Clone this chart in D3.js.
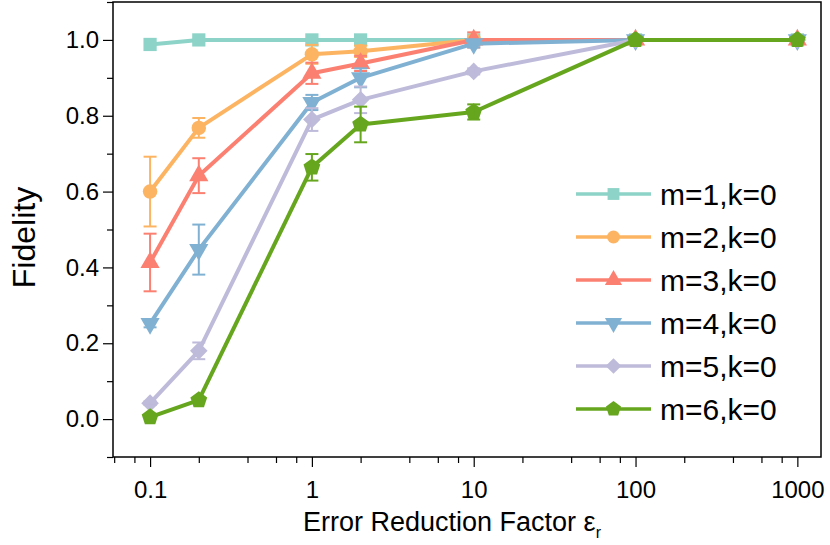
<!DOCTYPE html>
<html>
<head>
<meta charset="utf-8">
<script src="https://cdn.jsdelivr.net/npm/d3@7"></script>
<style>
  body { margin: 0; background: #fff; overflow: hidden; }
  svg { display: block; }
  text { font-family: "Liberation Sans", Arial, Helvetica, sans-serif; fill: #000; }
</style>
</head>
<body>
<svg id="chart" width="830" height="545"></svg>
<script>
// ----------------------
// data
// ----------------------
const xValues = [0.1, 0.2, 1, 2, 10, 100, 1000];
const seriesNames = ["m=1,k=0", "m=2,k=0", "m=3,k=0", "m=4,k=0", "m=5,k=0", "m=6,k=0"];
const seriesColors = ["#8dd3c7", "#fdb462", "#fb8072", "#80b1d3", "#bebada", "#66a61e"];

const fidM1 = [0.988, 1.0, 1.0, 1.0, 1.0, 1.0, 1.0];
const fidM2 = [0.600, 0.768, 0.962, 0.970, 1.0, 1.0, 1.0];
const fidM3 = [0.413, 0.642, 0.912, 0.938, 1.0, 1.0, 1.0];
const fidM4 = [0.252, 0.447, 0.835, 0.900, 0.990, 1.0, 1.0];
const fidM5 = [0.042, 0.180, 0.790, 0.842, 0.917, 1.0, 1.0];
const fidM6 = [0.005, 0.050, 0.664, 0.777, 0.810, 1.0, 1.0];

const errM1 = [0, 0, 0, 0, 0, 0, 0];
const errM2 = [0.092, 0.026, 0.025, 0.015, 0.008, 0, 0];
const errM3 = [0.076, 0.046, 0.028, 0.020, 0.020, 0, 0];
const errM4 = [0.010, 0.066, 0.020, 0.025, 0.010, 0, 0];
const errM5 = [0.005, 0.022, 0.030, 0.035, 0.008, 0, 0];
const errM6 = [0, 0, 0.035, 0.047, 0.020, 0, 0];

const yMajorTicks = [0, 0.2, 0.4, 0.6, 0.8, 1.0];
const yMinorTicks = [-0.1, 0.1, 0.3, 0.5, 0.7, 0.9, 1.1];
const xMajorTicks = [0.1, 1, 10, 100, 1000];
const xMinorTicks = [0.06, 0.08, 0.2, 0.4, 0.6, 0.8, 2, 4, 6, 8, 20, 40, 60, 80, 200, 400, 600, 800];

const fidAll = [fidM1, fidM2, fidM3, fidM4, fidM5, fidM6];
const errAll = [errM1, errM2, errM3, errM4, errM5, errM6];

// ----------------------
// layout
// ----------------------
const svg = d3.select("#chart");
const margin = { top: 2, right: 9, bottom: 88, left: 113 };
const innerWidth = 830 - margin.left - margin.right;
const innerHeight = 545 - margin.top - margin.bottom;

const g = svg.append("g")
    .attr("transform", `translate(${margin.left},${margin.top})`);

const x = d3.scaleLog().domain([0.059, 1400]).range([0, innerWidth]);
const y = d3.scaleLinear().domain([-0.1, 1.1]).range([innerHeight, 0]);

// pentagon marker (d3 has none)
const symbolPentagon = {
    draw(ctx, size) {
        const r = Math.sqrt(size / 2.3776);
        for (let i = 0; i < 5; i++) {
            const a = -Math.PI / 2 + i * 2 * Math.PI / 5;
            if (i === 0) ctx.moveTo(r * Math.cos(a), r * Math.sin(a));
            else ctx.lineTo(r * Math.cos(a), r * Math.sin(a));
        }
        ctx.closePath();
    }
};

const markers = [
    { type: d3.symbolSquare, size: 175, rot: 0 },
    { type: d3.symbolCircle, size: 165, rot: 0 },
    { type: d3.symbolTriangle, size: 160, rot: 0 },
    { type: d3.symbolTriangle, size: 160, rot: 180 },
    { type: d3.symbolSquare, size: 155, rot: 45 },
    { type: symbolPentagon, size: 185, rot: 0 }
];

// ----------------------
// axes
// ----------------------
g.append("g").attr("class", "y-axis")
    .call(d3.axisLeft(y).tickValues(yMajorTicks).tickFormat(d3.format(".1f")).tickSize(10).tickPadding(4));
g.append("g").attr("class", "y-minor")
    .call(d3.axisLeft(y).tickValues(yMinorTicks).tickSize(6));

g.append("g").attr("class", "x-axis")
    .attr("transform", `translate(0,${innerHeight})`)
    .call(d3.axisBottom(x).tickValues(xMajorTicks).tickFormat(d3.format("~g")).tickSize(10).tickPadding(14));
g.append("g").attr("class", "x-minor")
    .attr("transform", `translate(0,${innerHeight})`)
    .call(d3.axisBottom(x).tickValues(xMinorTicks).tickSize(6));

g.selectAll(".y-minor text, .x-minor text").remove();
g.selectAll(".domain").remove();
g.selectAll(".tick line").attr("stroke", "#000").attr("stroke-width", 1.2);
g.selectAll(".y-axis text, .x-axis text").style("font-size", "24px");

// frame
g.append("rect")
    .attr("width", innerWidth)
    .attr("height", innerHeight)
    .attr("fill", "none")
    .attr("stroke", "#000")
    .attr("stroke-width", 1.5);

// axis titles
svg.append("text")
    .attr("transform", `translate(35,${margin.top + innerHeight / 2 + 8}) rotate(-90)`)
    .attr("text-anchor", "middle")
    .style("font-size", "32px")
    .text("Fidelity");

const xTitle = svg.append("text")
    .attr("x", 452)
    .attr("y", 531)
    .attr("text-anchor", "middle")
    .style("font-size", "27px");
xTitle.append("tspan").text("Error Reduction Factor ε");
xTitle.append("tspan").attr("dy", 7).style("font-size", "16px").text("r");

// ----------------------
// series
// ----------------------
const lineGen = d3.line()
    .x(d => x(d.x))
    .y(d => y(d.v));

seriesNames.forEach((name, i) => {
    const pts = xValues.map((xv, j) => ({ x: xv, v: fidAll[i][j], e: errAll[i][j] }));
    const color = seriesColors[i];
    const sg = g.append("g").attr("class", "series");

    sg.append("path")
        .datum(pts)
        .attr("fill", "none")
        .attr("stroke", color)
        .attr("stroke-width", 4)
        .attr("stroke-linejoin", "round")
        .attr("d", lineGen);

    const mk = markers[i];
    sg.selectAll(".pt")
        .data(pts)
        .enter().append("path")
        .attr("class", "pt")
        .attr("fill", color)
        .attr("transform", d => `translate(${x(d.x)},${y(d.v)}) rotate(${mk.rot})`)
        .attr("d", d3.symbol().type(mk.type).size(mk.size));

    // error bars
    const eb = sg.selectAll(".eb")
        .data(pts.filter(d => d.e > 0))
        .enter().append("g")
        .attr("class", "eb")
        .attr("stroke", color)
        .attr("stroke-width", 2);
    eb.append("line")
        .attr("x1", d => x(d.x)).attr("x2", d => x(d.x))
        .attr("y1", d => y(d.v - d.e)).attr("y2", d => y(d.v + d.e));
    eb.append("line")
        .attr("x1", d => x(d.x) - 6.5).attr("x2", d => x(d.x) + 6.5)
        .attr("y1", d => y(d.v + d.e)).attr("y2", d => y(d.v + d.e));
    eb.append("line")
        .attr("x1", d => x(d.x) - 6.5).attr("x2", d => x(d.x) + 6.5)
        .attr("y1", d => y(d.v - d.e)).attr("y2", d => y(d.v - d.e));
});

// ----------------------
// legend
// ----------------------
const legend = svg.append("g").attr("transform", "translate(576,194)");
seriesNames.forEach((name, i) => {
    const row = legend.append("g").attr("transform", `translate(0,${i * 43})`);
    row.append("line")
        .attr("x1", 0).attr("x2", 75)
        .attr("stroke", seriesColors[i])
        .attr("stroke-width", 3.5);
    row.append("path")
        .attr("transform", `translate(37.5,0) rotate(${markers[i].rot})`)
        .attr("fill", seriesColors[i])
        .attr("d", d3.symbol().type(markers[i].type).size(markers[i].size * 0.8));
    row.append("text")
        .attr("x", 84)
        .attr("y", 10.5)
        .style("font-size", "30px")
        .text(name);
});
</script>
</body>
</html>
